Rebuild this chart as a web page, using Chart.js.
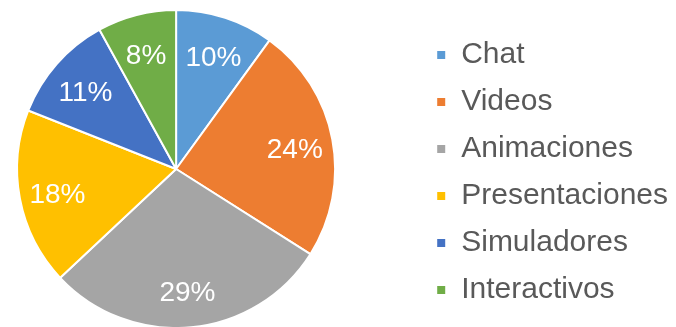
<!DOCTYPE html>
<html lang="es">
<head>
    <meta charset="UTF-8">
    <title>Recursos</title>
    <script src="https://cdn.jsdelivr.net/npm/chart.js"></script>
    <style>
        html, body {
            margin: 0;
            padding: 0;
            background: #ffffff;
        }

        .wrap {
            position: relative;
            width: 676px;
            height: 327px;
            overflow: hidden;
        }

        /* canvas is pulled left so the pie sits closer to the page edge */
        #pieChart {
            position: absolute;
            left: -67px;
            top: 0;
        }
    </style>
</head>
<body>
    <div class="wrap">
        <canvas id="pieChart" width="750" height="327"></canvas>
    </div>

    <script>
        // Share of each resource type (percent)
        const categories = ['Chat', 'Videos', 'Animaciones', 'Presentaciones', 'Simuladores', 'Interactivos'];
        const shares = [10, 24, 29, 18, 11, 8];
        const sliceColors = ['#5B9BD5', '#ED7D31', '#A5A5A5', '#FFC000', '#4472C4', '#70AD47'];

        const FONT = "'Liberation Sans', Arial, sans-serif";

        // Percentage labels drawn inside each slice
        const sliceLabels = {
            id: 'sliceLabels',
            afterDatasetsDraw(chart) {
                const ctx = chart.ctx;
                const meta = chart.getDatasetMeta(0);
                ctx.save();
                ctx.font = '28px ' + FONT;
                ctx.fillStyle = '#ffffff';
                ctx.textAlign = 'center';
                ctx.textBaseline = 'middle';
                meta.data.forEach((arc, i) => {
                    const { x, y, startAngle, endAngle, outerRadius } =
                        arc.getProps(['x', 'y', 'startAngle', 'endAngle', 'outerRadius'], true);
                    const mid = (startAngle + endAngle) / 2;
                    const r = outerRadius * 0.76;
                    ctx.fillText(shares[i] + '%', x + Math.cos(mid) * r, y + Math.sin(mid) * r + 4);
                });
                ctx.restore();
            }
        };

        const ctx = document.getElementById('pieChart').getContext('2d');
        new Chart(ctx, {
            type: 'pie',
            data: {
                labels: categories,
                datasets: [{
                    data: shares,
                    backgroundColor: sliceColors,
                    borderColor: '#ffffff',
                    borderWidth: 2,
                    radius: 159,
                    clip: false
                }]
            },
            options: {
                responsive: false,
                animation: false,
                layout: {
                    padding: { left: 0, right: 5, top: 16, bottom: 5 }
                },
                plugins: {
                    tooltip: { enabled: false },
                    legend: {
                        position: 'right',
                        align: 'end',
                        labels: {
                            boxWidth: 10,
                            boxHeight: 10,
                            padding: 17,
                            color: '#595959',
                            font: { family: FONT, size: 30 }
                        }
                    }
                }
            },
            plugins: [sliceLabels]
        });
    </script>
</body>
</html>
